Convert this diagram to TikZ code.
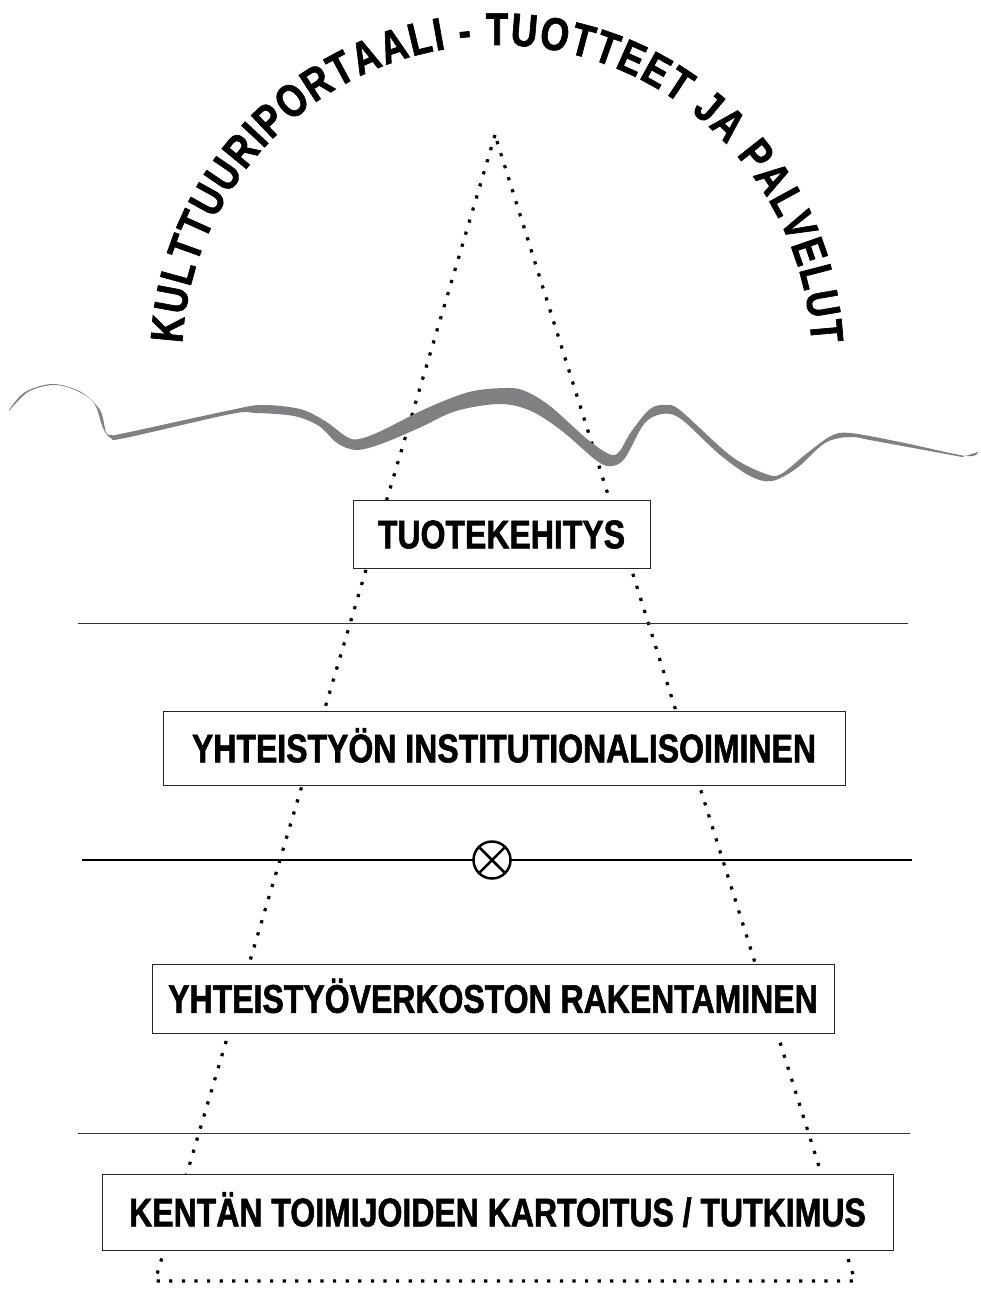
\documentclass[tikz,border=0pt]{standalone}
\usepackage{fontspec}
\usetikzlibrary{decorations.text}
\newfontfamily\labelfont[FakeStretch=0.8,FakeBold=1.4]{Liberation Sans}
\newcommand{\arcstyle}{\labelfont\bfseries\fontsize{46}{46}\selectfont}
\definecolor{wavegray}{RGB}{128,128,130}

\begin{document}
\begin{tikzpicture}[x=1pt, y=-1pt,
    box/.style={draw=black!85, line width=0.9pt, fill=white, inner sep=0pt,
        text height=28.6pt, text depth=0pt,
        font=\labelfont\bfseries\fontsize{40}{40}\selectfont},
    dotline/.style={line width=3.2pt, dash pattern=on 3.2pt off 9.4pt},
    thinrule/.style={line width=1pt, draw=black!80}]
    \useasboundingbox (0,0) rectangle (981,1289);
    % Title along the arc:
    \path[decorate, decoration={text along path, text align=fit to path,
        text={|\arcstyle|KULTTUURIPORTAALI - TUOTTEET JA PALVELUT}}]
        (182.4,343.5) arc[start angle=183, end angle=357, radius=315];
    % Dotted triangle:
    \coordinate (apex) at (495,135);
    \coordinate (baseL) at (155,1281);
    \coordinate (baseR) at (855,1281);
    \draw[dotline] (apex) -- (baseL) -- (baseR) -- cycle;
    % Rules:
    \coordinate (R1a) at (78,623);   \coordinate (R1b) at (908,623);
    \coordinate (R2a) at (82,860);   \coordinate (R2b) at (912,860);
    \coordinate (R3a) at (78,1133);  \coordinate (R3b) at (910,1133);
    \draw[thinrule] (R1a) -- (R1b);
    \draw[line width=2.5pt] (R2a) -- (R2b);
    \draw[thinrule] (R3a) -- (R3b);
    \node[circle, draw, line width=2.5pt, fill=white, minimum size=37pt, inner sep=0pt, outer sep=0pt](X) at (492,860){};
    \draw[line width=2.5pt] (X.45) -- (X.225) (X.135) -- (X.315);
    % Boxes:
    \node[box, minimum width=297pt, minimum height=68pt](B1) at (501.5,534){TUOTEKEHITYS};
    \node[box, minimum width=682pt, minimum height=74pt](B2) at (504,748){YHTEISTYÖN INSTITUTIONALISOIMINEN};
    \node[box, minimum width=682pt, minimum height=69pt](B3) at (493,998.5){YHTEISTYÖVERKOSTON RAKENTAMINEN};
    \node[box, minimum width=791pt, minimum height=76pt](B4) at (497.5,1212){KENTÄN TOIMIJOIDEN KARTOITUS / TUTKIMUS};
    % Wave:
    \fill[wavegray] plot[smooth, tension=0.55] coordinates {(9,410) (25,392) (53,384) (81,392) (100,410) (106,432) (112,435)
        (125,433) (231,410) (262,405) (300,409) (325,421) (347,437) (359,439) (381,431) (425,409) (469,392)
        (506,388) (525,391) (550,406) (587,439) (609,454) (619,452) (631,432) (650,409) (666,405) (681,411)
        (731,456) (766,474) (781,474) (806,454) (831,436) (850,433) (900,442) (966,456) (978,452)}
        -- plot[smooth, tension=0.55] coordinates {(962,457) (875,441) (850,437) (825,443) (797,468) (772,481)
        (750,476) (719,454) (681,419) (662,414) (644,424) (625,458) (612,466) (597,461) (562,431) (531,411)
        (500,404) (456,411) (419,428) (381,444) (356,450) (337,443) (319,426) (294,416) (256,413) (231,414)
        (125,438) (111,438) (103,428) (94,403) (75,390) (53,385) (28,392) (9,411)} -- cycle;
\end{tikzpicture}
\end{document}
